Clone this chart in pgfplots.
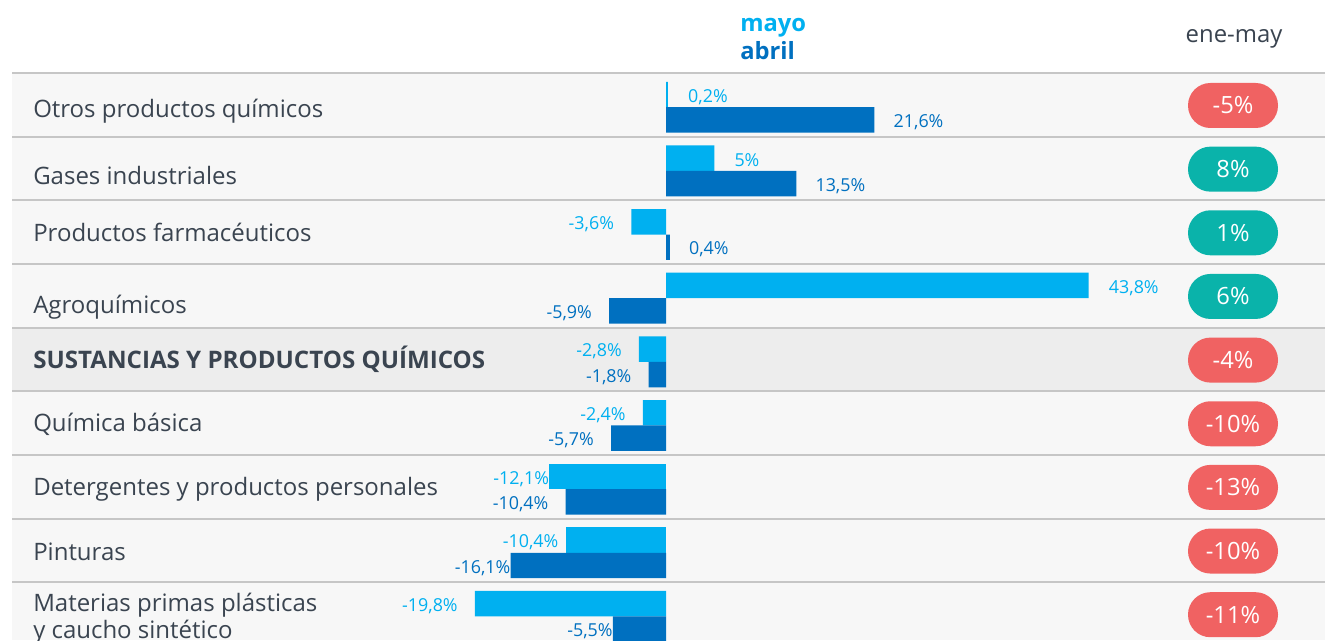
\documentclass[border=0pt]{standalone}
\usepackage{pgfplots}
\pgfplotsset{compat=1.18}
\usepackage{fontspec}
\setmainfont{Open Sans}
\definecolor{mayo}{RGB}{0,176,240}
\definecolor{abril}{RGB}{0,112,192}
\definecolor{txt}{RGB}{58,68,80}
\definecolor{rowbg}{RGB}{247,247,247}
\definecolor{sumbg}{RGB}{237,237,237}
\definecolor{sep}{RGB}{198,198,198}
\definecolor{pneg}{RGB}{240,98,98}
\definecolor{ppos}{RGB}{10,179,170}

\begin{document}
\begin{tikzpicture}
% backgrounds (pixel coordinates, origin top-left)
\begin{scope}[x=0.75pt,y=-0.75pt,shift={(0pt,480pt)}]
  \fill[white] (0,0) rectangle (1325,640);
  \fill[rowbg] (12,73) rectangle (1325,640);
  \fill[sumbg] (12,327.6) rectangle (1325,391.25);
  \foreach \k in {0,...,8}
    \draw[sep,line width=1.5pt] (12,{73+63.65*\k}) -- (1325,{73+63.65*\k});
\end{scope}

\begin{axis}[at={(0pt,0pt)},anchor=south west,
  scale only axis,width=993.75pt,height=480pt,
  xmin=-69.016,xmax=68.290,ymin=-1.6497,ymax=8.4054,
  y dir=reverse,hide axis,clip=false,
  xbar,bar width=0.4,
  point meta=explicit symbolic,
  nodes near coords={\pgfplotspointmeta\%},
  every node near coord/.append style={inner sep=0pt,yshift=-1.8pt,font=\fontsize{13.4}{16}\selectfont},
  bm/.style={fill=mayo,draw=none,bar shift=-0.165,every node near coord/.append style={text=mayo}},
  ba/.style={fill=abril,draw=none,bar shift=0.235,every node near coord/.append style={text=abril}},
  lw/.style={every node near coord/.append style={anchor=west,xshift=#1*0.75pt}},
  le/.style={every node near coord/.append style={anchor=east,xshift=-#1*0.75pt}},
]
% mayo
\addplot[bm,lw=20] table[x=x,y=y,meta=lab]{
y x lab
0 0.2 0,2
1 5 5
3 43.8 43,8
};
\addplot[bm,le=17] table[x=x,y=y,meta=lab]{
y x lab
2 -3.6 -3,6
4 -2.8 -2,8
5 -2.4 -2,4
8 -19.8 -19,8
};
\addplot[bm,le=7] table[x=x,y=y,meta=lab]{
y x lab
7 -10.4 -10,4
};
\addplot[bm,le=0] table[x=x,y=y,meta=lab]{
y x lab
6 -12.1 -12,1
};
% abril
\addplot[ba,lw=19] table[x=x,y=y,meta=lab]{
y x lab
0 21.6 21,6
1 13.5 13,5
2 0.4 0,4
};
\addplot[ba,le=17] table[x=x,y=y,meta=lab]{
y x lab
3 -5.9 -5,9
4 -1.8 -1,8
5 -5.7 -5,7
6 -10.4 -10,4
};
\addplot[ba,le=0] table[x=x,y=y,meta=lab]{
y x lab
7 -16.1 -16,1
8 -5.5 -5,5
};
\end{axis}

\begin{scope}[x=0.75pt,y=-0.75pt,shift={(0pt,480pt)},
  lbl/.style={anchor=base west,inner sep=0pt,text=txt,font=\fontsize{18}{21}\selectfont}]
  % header
  \node[anchor=base west,inner sep=0pt,text=mayo,font=\fontsize{17.8}{21}\selectfont\bfseries] at (740,32) {mayo};
  \node[anchor=base west,inner sep=0pt,text=abril,font=\fontsize{17.8}{21}\selectfont\bfseries] at (740,60) {abril};
  \node[anchor=base,inner sep=0pt,text=txt,font=\fontsize{17.9}{21}\selectfont] at (1234,43) {ene-may};
  % row labels
  \node[lbl] at (33,118) {Otros productos químicos};
  \node[lbl] at (33,185) {Gases industriales};
  \node[lbl] at (33,241.7) {Productos farmacéuticos};
  \node[lbl] at (33,313.3) {Agroquímicos};
  \node[lbl,font=\fontsize{18.1}{21}\selectfont\bfseries] at (33,368.3) {SUSTANCIAS Y PRODUCTOS QUÍMICOS};
  \node[lbl] at (33,431.7) {Química básica};
  \node[lbl] at (33,495) {Detergentes y productos personales};
  \node[lbl] at (33,560.7) {Pinturas};
  \node[lbl] at (33,611.7) {Materias primas plásticas};
  \node[lbl] at (33,638.3) {y caucho sintético};
  % ene-may pills
  \foreach \v/\c [count=\k from 0] in {-5/pneg,8/ppos,1/ppos,6/ppos,-4/pneg,-10/pneg,-13/pneg,-10/pneg,-11/pneg}
    \node[fill=\c,text=white,rounded corners=16.8pt,minimum width=67.5pt,minimum height=33.75pt,
          inner sep=0pt,font=\fontsize{17.8}{21}\selectfont]
      at (1233,{105.5+63.65*\k}) {\v\%};
\end{scope}
\pgfresetboundingbox
\path (0pt,0pt) rectangle (993.75pt,480pt);
\end{tikzpicture}
\end{document}
